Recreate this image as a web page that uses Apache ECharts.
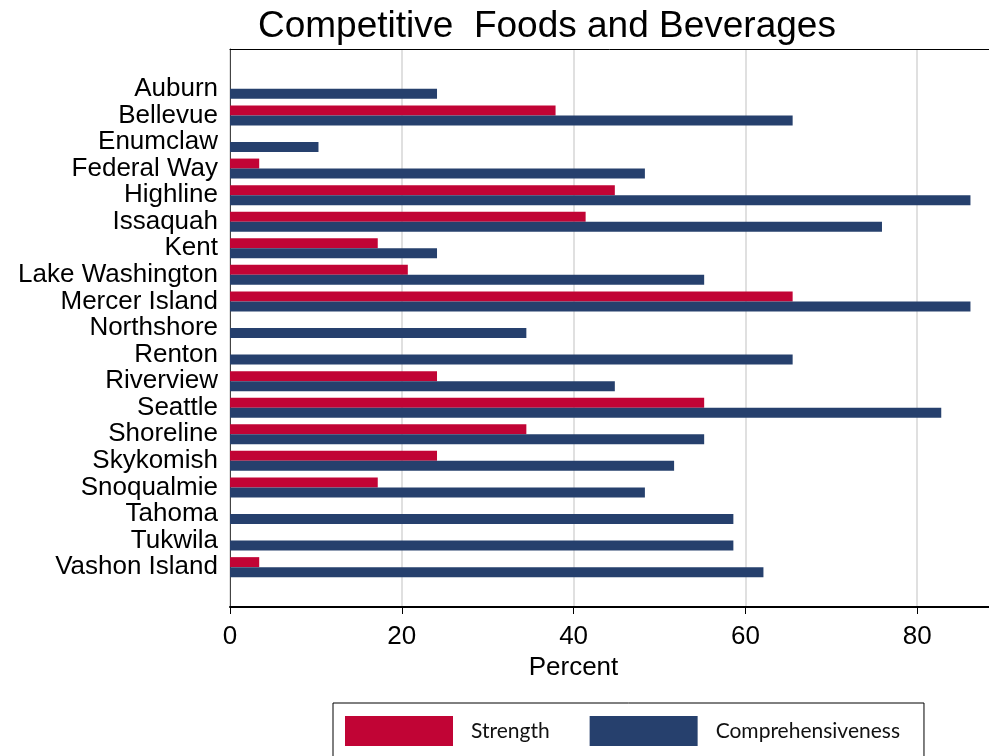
<!DOCTYPE html>
<html>
<head>
<meta charset="utf-8">
<script src="https://cdn.jsdelivr.net/npm/echarts@6/dist/echarts.min.js"></script>
<style>
  html, body { margin: 0; padding: 0; background: #fff; }
  #chart { width: 989px; height: 756px; }
</style>
</head>
<body>
<div id="chart"></div>
<script>
  // districts, top to bottom
  const districts = ['Auburn', 'Bellevue', 'Enumclaw', 'Federal Way', 'Highline', 'Issaquah', 'Kent',
    'Lake Washington', 'Mercer Island', 'Northshore', 'Renton', 'Riverview', 'Seattle', 'Shoreline',
    'Skykomish', 'Snoqualmie', 'Tahoma', 'Tukwila', 'Vashon Island'];
  const strength = [0, 37.9, 0, 3.4, 44.8, 41.4, 17.2, 20.7, 65.5, 0, 0, 24.1, 55.2, 34.5, 24.1, 17.2, 0, 0, 3.4];
  const comprehensiveness = [24.1, 65.5, 10.3, 48.3, 86.2, 75.9, 24.1, 55.2, 86.2, 34.5, 65.5, 44.8, 82.8, 55.2, 51.7, 48.3, 58.6, 58.6, 62.1];
  const xTicks = [0, 20, 40, 60, 80];

  const chart = echarts.init(document.getElementById('chart'));

  // empty slot above and below the districts, like the original plot
  const cats = [''].concat(districts, ['']);
  const pad = arr => ['-'].concat(arr, ['-']);

  // axis runs to 100 but the plot is cut at the window edge (~88)
  const xMax = 100;

  chart.setOption({
    animation: false,
    backgroundColor: '#fff',
    title: {
      text: 'Competitive  Foods and Beverages',
      left: 253,
      top: 3,
      textStyle: {
        fontFamily: 'Liberation Sans',
        fontSize: 37,
        fontWeight: 'normal',
        color: '#000'
      }
    },
    legend: {
      data: ['Strength', 'Comprehensiveness'],
      left: 333,
      top: 703,
      icon: 'rect',
      itemWidth: 108,
      itemHeight: 30,
      itemGap: 40,
      borderColor: '#000',
      borderWidth: 1,
      padding: [13, 24, 13, 12],
      textStyle: {
        fontFamily: 'Lato',
        fontSize: 21,
        color: '#111',
        padding: [0, 0, 0, 13]
      }
    },
    grid: {
      left: 230,
      top: 49,
      width: 859,
      bottom: 149,
      outerBoundsMode: 'none'
    },
    xAxis: [{
      type: 'value',
      min: 0,
      max: xMax,
      interval: 20,
      name: 'Percent',
      nameLocation: 'middle',
      nameGap: 46,
      nameTextStyle: {
        fontFamily: 'Liberation Sans',
        fontSize: 26,
        color: '#000',
        padding: [0, 172, 0, 0]
      },
      axisLine: { show: true, lineStyle: { color: '#000', width: 2 } },
      axisTick: { show: true, length: 7, lineStyle: { color: '#000', width: 1 } },
      axisLabel: {
        margin: 17,
        fontFamily: 'Liberation Sans',
        fontSize: 26,
        color: '#000',
        formatter: v => (xTicks.indexOf(v) >= 0 ? String(v) : '')
      },
      splitLine: {
        show: true,
        lineStyle: { color: '#e0e0e0', width: 2 }
      }
    }, {
      // thin frame line on top
      type: 'value',
      position: 'top',
      min: 0,
      max: xMax,
      axisLine: { show: true, lineStyle: { color: '#000', width: 1 } },
      axisTick: { show: false },
      axisLabel: { show: false },
      splitLine: { show: false }
    }],
    yAxis: {
      type: 'category',
      data: cats,
      inverse: true,
      axisLine: { show: true, lineStyle: { color: '#444', width: 1 } },
      axisTick: { show: false },
      axisLabel: {
        interval: 0,
        margin: 12,
        padding: [4, 0, 0, 0],
        fontFamily: 'Liberation Sans',
        fontSize: 26,
        color: '#000'
      }
    },
    series: [{
      name: 'Strength',
      type: 'bar',
      data: pad(strength),
      barWidth: 10,
      barGap: '0%',
      itemStyle: { color: '#c10435' }
    }, {
      name: 'Comprehensiveness',
      type: 'bar',
      data: pad(comprehensiveness),
      barWidth: 10,
      barGap: '0%',
      itemStyle: { color: '#26406d' }
    }]
  });
</script>
</body>
</html>
